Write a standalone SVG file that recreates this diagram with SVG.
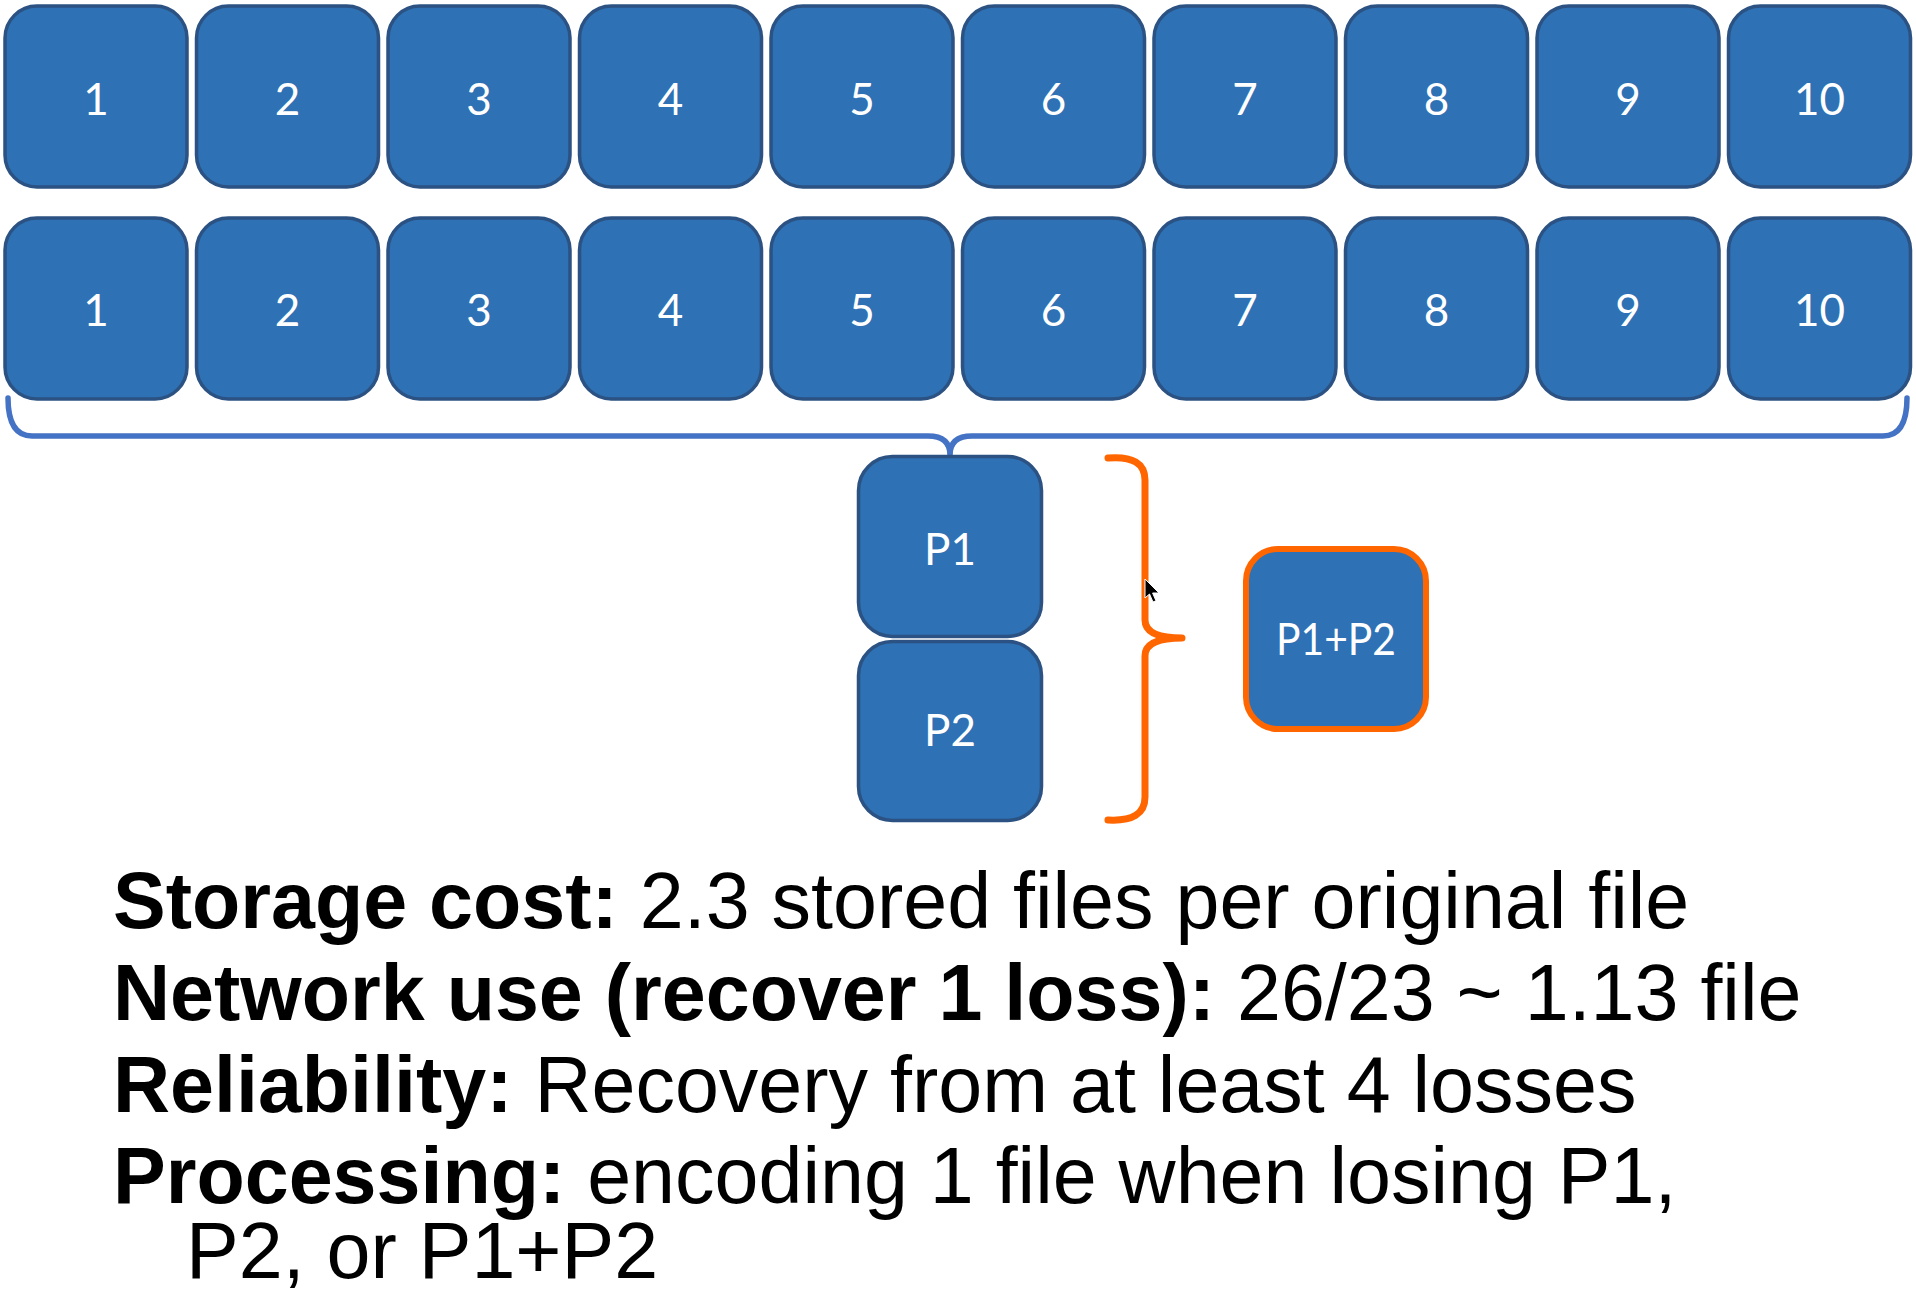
<svg xmlns="http://www.w3.org/2000/svg" width="1916" height="1296" viewBox="0 0 1916 1296">
<style>
.box{fill:#2E71B4;stroke:#2B5282;stroke-width:3.5}
.obox{fill:#2E71B4;stroke:#FF6600;stroke-width:6}
.lbl{font-family:Lato,"Open Sans","DejaVu Sans",sans-serif;font-size:44px;fill:#FFFFFF;text-anchor:middle}
.txt{font-family:"Liberation Sans",Arial,sans-serif;font-size:79px;fill:#000000}
.b{font-weight:bold}
.brace-blue{fill:none;stroke:#4472C4;stroke-width:5.5;stroke-linecap:round;stroke-linejoin:round}
.brace-orange{fill:none;stroke:#FF6600;stroke-width:7;stroke-linecap:round;stroke-linejoin:round}
</style>
<rect width="1916" height="1296" fill="#FFFFFF"/>
<g id="row1">
<g id="r1n1"><rect class="box" x="5" y="6" width="182" height="181" rx="32"/><text class="lbl" x="96" y="115">1</text></g>
<g id="r1n2"><rect class="box" x="196.5" y="6" width="182" height="181" rx="32"/><text class="lbl" x="287.5" y="115">2</text></g>
<g id="r1n3"><rect class="box" x="388" y="6" width="182" height="181" rx="32"/><text class="lbl" x="479" y="115">3</text></g>
<g id="r1n4"><rect class="box" x="579.5" y="6" width="182" height="181" rx="32"/><text class="lbl" x="670.5" y="115">4</text></g>
<g id="r1n5"><rect class="box" x="771" y="6" width="182" height="181" rx="32"/><text class="lbl" x="862" y="115">5</text></g>
<g id="r1n6"><rect class="box" x="962.5" y="6" width="182" height="181" rx="32"/><text class="lbl" x="1053.5" y="115">6</text></g>
<g id="r1n7"><rect class="box" x="1154" y="6" width="182" height="181" rx="32"/><text class="lbl" x="1245" y="115">7</text></g>
<g id="r1n8"><rect class="box" x="1345.5" y="6" width="182" height="181" rx="32"/><text class="lbl" x="1436.5" y="115">8</text></g>
<g id="r1n9"><rect class="box" x="1537" y="6" width="182" height="181" rx="32"/><text class="lbl" x="1628" y="115">9</text></g>
<g id="r1n10"><rect class="box" x="1728.5" y="6" width="182" height="181" rx="32"/><text class="lbl" x="1819.5" y="115">10</text></g>
</g>
<g id="row2">
<g id="r2n1"><rect class="box" x="5" y="218" width="182" height="181" rx="32"/><text class="lbl" x="96" y="326">1</text></g>
<g id="r2n2"><rect class="box" x="196.5" y="218" width="182" height="181" rx="32"/><text class="lbl" x="287.5" y="326">2</text></g>
<g id="r2n3"><rect class="box" x="388" y="218" width="182" height="181" rx="32"/><text class="lbl" x="479" y="326">3</text></g>
<g id="r2n4"><rect class="box" x="579.5" y="218" width="182" height="181" rx="32"/><text class="lbl" x="670.5" y="326">4</text></g>
<g id="r2n5"><rect class="box" x="771" y="218" width="182" height="181" rx="32"/><text class="lbl" x="862" y="326">5</text></g>
<g id="r2n6"><rect class="box" x="962.5" y="218" width="182" height="181" rx="32"/><text class="lbl" x="1053.5" y="326">6</text></g>
<g id="r2n7"><rect class="box" x="1154" y="218" width="182" height="181" rx="32"/><text class="lbl" x="1245" y="326">7</text></g>
<g id="r2n8"><rect class="box" x="1345.5" y="218" width="182" height="181" rx="32"/><text class="lbl" x="1436.5" y="326">8</text></g>
<g id="r2n9"><rect class="box" x="1537" y="218" width="182" height="181" rx="32"/><text class="lbl" x="1628" y="326">9</text></g>
<g id="r2n10"><rect class="box" x="1728.5" y="218" width="182" height="181" rx="32"/><text class="lbl" x="1819.5" y="326">10</text></g>
</g>
<g id="connectors">
<path class="brace-blue" d="M8 398 Q8 436 32 436 L928 436 Q950 436 950 455 Q950 436 972 436 L1883 436 Q1907 436 1907 398"/>
<path class="brace-orange" d="M1108 458 Q1145 455 1145 480 L1145 620 Q1145 638 1182 638 M1182 638 Q1145 638 1145 656 L1145 797 Q1145 822 1108 820"/>
</g>
<g id="P1"><rect class="box" x="858.5" y="456.5" width="183" height="180" rx="34"/><text class="lbl" x="950" y="565">P1</text></g>
<g id="P2"><rect class="box" x="858.5" y="641.5" width="183" height="179" rx="34"/><text class="lbl" x="950" y="746">P2</text></g>
<g id="P1P2"><rect class="obox" x="1246" y="549" width="180" height="180" rx="32"/><text class="lbl" x="1336" y="655" textLength="120" lengthAdjust="spacingAndGlyphs">P1+P2</text></g>
<g id="cursor"><path d="M1145 579 L1145 598 L1149.5 594 L1153 602 L1156 600.8 L1152.6 593 L1159 593 Z" fill="#000000" stroke="#FFFFFF" stroke-width="1"/></g>
<g id="text">
<text class="txt" x="113" y="928"><tspan class="b">Storage cost:</tspan> 2.3 stored files per original file</text>
<text class="txt" x="113" y="1020"><tspan class="b">Network use (recover 1 loss):</tspan> 26/23 ~ 1.13 file</text>
<text class="txt" x="113" y="1112"><tspan class="b">Reliability:</tspan> Recovery from at least 4 losses</text>
<text class="txt" x="113" y="1203"><tspan class="b">Processing:</tspan> encoding 1 file when losing P1,</text>
<text class="txt" x="186" y="1278">P2, or P1+P2</text>
</g>
</svg>
